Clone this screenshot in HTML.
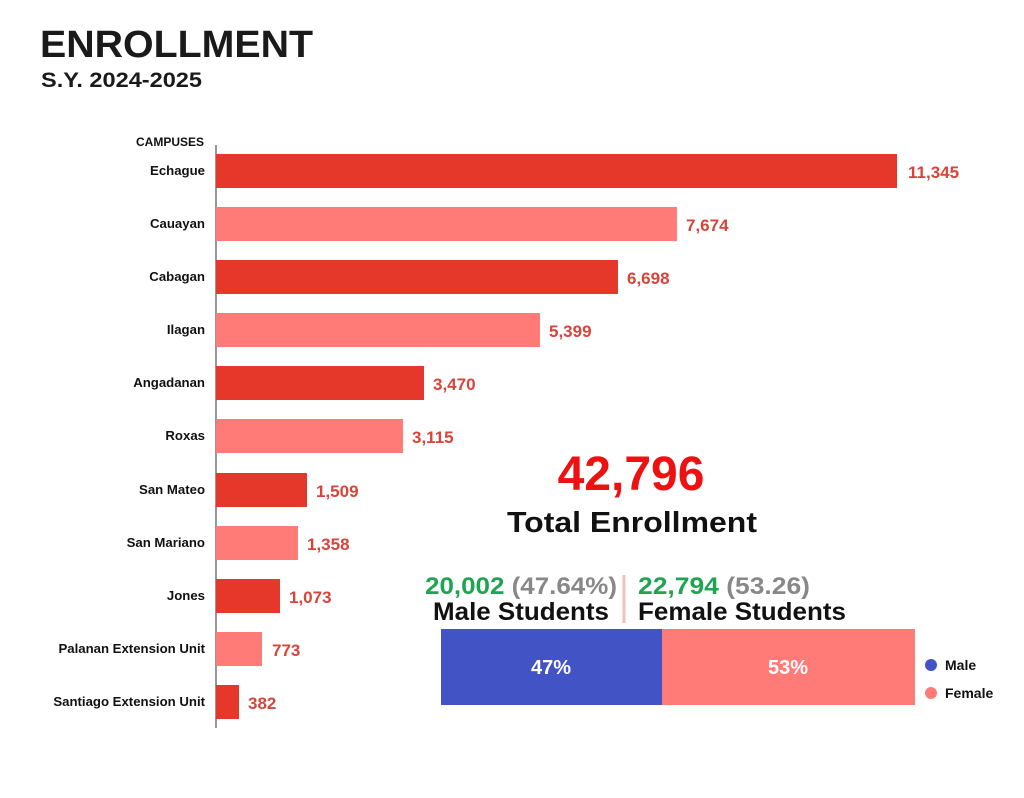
<!DOCTYPE html>
<html><head><meta charset="utf-8"><style>
body{margin:0;background:#fff;}
svg text{font-family:"Liberation Sans",Arial,sans-serif;font-weight:bold;}
</style></head><body>
<svg width="1024" height="793" viewBox="0 0 1024 793" xmlns="http://www.w3.org/2000/svg">
<rect width="1024" height="793" fill="#fff"/>
<text x="40" y="57" font-size="38" fill="#1a1a1a" textLength="273" lengthAdjust="spacingAndGlyphs">ENROLLMENT</text>
<text x="41" y="87" font-size="21" fill="#1a1a1a" textLength="161" lengthAdjust="spacingAndGlyphs">S.Y. 2024-2025</text>
<text x="204" y="146" font-size="12" text-anchor="end" fill="#111">CAMPUSES</text>
<line x1="216" y1="145" x2="216" y2="728" stroke="#555" stroke-width="1.2"/>
<g font-size="13.2" text-anchor="end" fill="#111">
<text x="205" y="175">Echague</text>
<text x="205" y="228">Cauayan</text>
<text x="205" y="281">Cabagan</text>
<text x="205" y="334">Ilagan</text>
<text x="205" y="387">Angadanan</text>
<text x="205" y="440">Roxas</text>
<text x="205" y="494">San Mateo</text>
<text x="205" y="547">San Mariano</text>
<text x="205" y="600">Jones</text>
<text x="205" y="653">Palanan Extension Unit</text>
<text x="205" y="706">Santiago Extension Unit</text>
</g>
<g>
<rect x="216" y="154" width="681" height="34" fill="#e5382b"/>
<rect x="216" y="207" width="461" height="34" fill="#ff7b78"/>
<rect x="216" y="260" width="402" height="34" fill="#e5382b"/>
<rect x="216" y="313" width="324" height="34" fill="#ff7b78"/>
<rect x="216" y="366" width="208" height="34" fill="#e5382b"/>
<rect x="216" y="419" width="187" height="34" fill="#ff7b78"/>
<rect x="216" y="473" width="91" height="34" fill="#e5382b"/>
<rect x="216" y="526" width="82" height="34" fill="#ff7b78"/>
<rect x="216" y="579" width="64" height="34" fill="#e5382b"/>
<rect x="216" y="632" width="46" height="34" fill="#ff7b78"/>
<rect x="216" y="685" width="23" height="34" fill="#e5382b"/>
</g>
<g font-size="17" fill="#d8443a">
<text x="908" y="178">11,345</text>
<text x="686" y="231">7,674</text>
<text x="627" y="284">6,698</text>
<text x="549" y="337">5,399</text>
<text x="433" y="390">3,470</text>
<text x="412" y="443">3,115</text>
<text x="316" y="497">1,509</text>
<text x="307" y="550">1,358</text>
<text x="289" y="603">1,073</text>
<text x="272" y="656">773</text>
<text x="248" y="709">382</text>
</g>
<text x="631" y="490" font-size="48" text-anchor="middle" fill="#ee1111">42,796</text>
<text x="632" y="532" font-size="29" text-anchor="middle" fill="#111" textLength="250" lengthAdjust="spacingAndGlyphs">Total Enrollment</text>
<text x="425" y="594" font-size="24" textLength="192" lengthAdjust="spacingAndGlyphs"><tspan fill="#1ea552">20,002</tspan><tspan fill="#888"> (47.64%)</tspan></text>
<text x="433" y="620" font-size="25" fill="#111" textLength="176" lengthAdjust="spacingAndGlyphs">Male Students</text>
<line x1="624" y1="575" x2="624" y2="623" stroke="#f3c0bd" stroke-width="3"/>
<text x="638" y="594" font-size="24" textLength="172" lengthAdjust="spacingAndGlyphs"><tspan fill="#1ea552">22,794</tspan><tspan fill="#888"> (53.26)</tspan></text>
<text x="638" y="620" font-size="25" fill="#111" textLength="208" lengthAdjust="spacingAndGlyphs">Female Students</text>
<rect x="441" y="629" width="221" height="76" fill="#4254c5"/>
<rect x="662" y="629" width="253" height="76" fill="#ff7b78"/>
<text x="551" y="674" font-size="20" text-anchor="middle" fill="#fff">47%</text>
<text x="788" y="674" font-size="20" text-anchor="middle" fill="#fff">53%</text>
<circle cx="931" cy="665" r="6" fill="#4254c5"/>
<text x="945" y="670" font-size="14" fill="#111">Male</text>
<circle cx="931" cy="693" r="6" fill="#ff7b78"/>
<text x="945" y="698" font-size="14" fill="#111">Female</text>
</svg>
</body></html>
